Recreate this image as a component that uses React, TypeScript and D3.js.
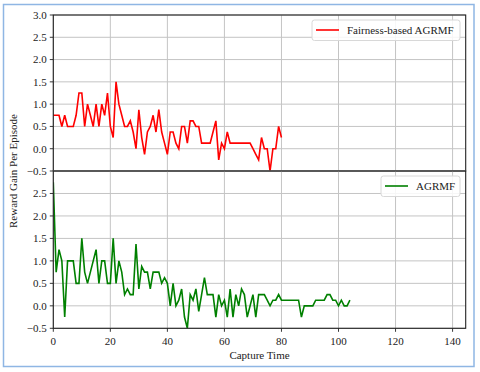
import React from 'react';
import * as d3 from 'd3';

// Reward per capture step, x = index (capture time)
const fairnessValues = [
  0.75, 0.75, 0.75, 0.5, 0.75, 0.5, 0.5, 0.5, 0.75, 1.25,
  1.25, 0.5, 1.0, 0.75, 0.5, 1.0, 0.5, 1.0, 0.75, 1.25,
  0.5, 0.25, 1.5, 1.0, 0.75, 0.5, 0.5, 0.625, 0.375, 0.0,
  0.875, 0.25, -0.125, 0.375, 0.5, 0.75, 0.375, 0.875, 0.375, 0.125,
  -0.125, 0.375, 0.375, 0.125, 0.0, 0.5, 0.5, 0.125, 0.625, 0.625,
  0.5, 0.5, 0.125, 0.125, 0.125, 0.125, 0.375, 0.625, -0.25, 0.125,
  0.0, 0.375, 0.125, 0.125, 0.125, 0.125, 0.125, 0.125, 0.125, 0.125,
  0.0, -0.125, -0.25, 0.25, 0.0, 0.0, -0.5, 0.0, 0.0, 0.5,
  0.25,
];

const agrmfValues = [
  2.75, 0.75, 1.25, 1.0, -0.25, 1.0, 1.0, 1.0, 0.5, 0.5,
  1.5, 0.75, 0.5, 0.75, 1.0, 1.25, 0.5, 1.0, 1.0, 0.5,
  0.5, 1.5, 0.5, 1.0, 0.75, 0.25, 0.375, 0.25, 0.25, 1.375,
  0.375, 0.875, 0.75, 0.75, 0.375, 0.75, 0.75, 0.75, 0.5, 0.625,
  0.5, 0.0, 0.5, 0.0, 0.125, 0.375, -0.25, -0.5, 0.25, 0.125,
  0.375, -0.125, 0.25, 0.625, 0.25, 0.25, 0.25, -0.25, 0.25, 0.0,
  0.125, -0.25, 0.375, -0.25, 0.25, 0.0, 0.375, 0.25, -0.25, 0.0,
  0.25, -0.25, 0.25, 0.25, 0.25, 0.125, 0.0, 0.125, 0.125, 0.25,
  0.125, 0.125, 0.125, 0.125, 0.125, 0.125, 0.125, -0.25, 0.0, 0.0,
  0.0, 0.0, 0.125, 0.125, 0.125, 0.125, 0.25, 0.25, 0.125, 0.125,
  0.0, 0.125, 0.0, 0.0, 0.125,
];

const xTicks = [0, 20, 40, 60, 80, 100, 120, 140];
const yTicksTop = [-0.5, 0, 0.5, 1.0, 1.5, 2.0, 2.5, 3.0];
const yTicksBottom = [-0.5, 0, 0.5, 1.0, 1.5, 2.0, 2.5];

const W = 480;
const H = 372;
const left = 53.3;
const right = 465.7;
const top = 15;
const mid = 171;
const bottom = 328.3;

const font = '"Liberation Serif", "Times New Roman", serif';
const fmt = d3.format('.1f');

const x = d3.scaleLinear().domain([0, 144.6]).range([left, right]);
const yTop = d3.scaleLinear().domain([-0.5, 3.0]).range([mid, top]);
const yBot = d3.scaleLinear().domain([-0.5, 3.0]).range([bottom, mid]);

const Panel = ({ y, values, color, ticks, label, legendX, legendW }) => {
  const [y0, y1] = y.range();
  const line = d3.line<number>().x((d, i) => x(i)).y(d => y(d));
  const ly = y1 + 5;
  return (
    <g>
      <defs>
        <clipPath id={`clip-${color}`}>
          <rect x={left} y={y1} width={right - left} height={y0 - y1} />
        </clipPath>
      </defs>
      {xTicks.map(t => (
        <line key={'gx' + t} x1={x(t)} x2={x(t)} y1={y1} y2={y0} stroke="#c4c4c4" strokeWidth={1} />
      ))}
      {yTicksTop.map(t => (
        <line key={'gy' + t} x1={left} x2={right} y1={y(t)} y2={y(t)} stroke="#c4c4c4" strokeWidth={1} />
      ))}
      <path d={line(values) || ''} fill="none" stroke={color} strokeWidth={1.6} clipPath={`url(#clip-${color})`} />
      {ticks.map(t => (
        <g key={'ty' + t}>
          <line x1={left - 3.5} x2={left} y1={y(t)} y2={y(t)} stroke="#222" strokeWidth={0.9} />
          <text x={left - 6.5} y={y(t)} dy="0.35em" textAnchor="end" fontSize={11} fontFamily={font} fill="#222">
            {fmt(t)}
          </text>
        </g>
      ))}
      <rect x={left} y={y1} width={right - left} height={y0 - y1} fill="none" stroke="#222" strokeWidth={1.1} />
      <rect x={legendX} y={ly} width={legendW} height={20.5} rx={2.5} fill="white" fillOpacity={0.85} stroke="#d8d8d8" strokeWidth={1} />
      <line x1={legendX + 4} x2={legendX + 27} y1={ly + 10} y2={ly + 10} stroke={color} strokeWidth={1.6} />
      <text x={legendX + 35} y={ly + 10} dy="0.35em" fontSize={11} fontFamily={font} fill="#222">{label}</text>
    </g>
  );
};

export default function App() {
  return (
    <svg width={W} height={H} style={{ position: 'fixed', left: 0, top: 0, background: 'white' }}>
      <rect x={0} y={0} width={W} height={H} fill="white" />
      <rect x={3.5} y={4.5} width={470.5} height={362} fill="none" stroke="#8fb6e4" strokeWidth={1.5} />
      <Panel y={yTop} values={fairnessValues} color="#ff0000" ticks={yTicksTop}
        label="Fairness-based AGRMF" legendX={312} legendW={148} />
      <Panel y={yBot} values={agrmfValues} color="#008000" ticks={yTicksBottom}
        label="AGRMF" legendX={381} legendW={79} />
      {xTicks.map(t => (
        <g key={'tx' + t}>
          <line x1={x(t)} x2={x(t)} y1={bottom} y2={bottom + 3.5} stroke="#222" strokeWidth={0.9} />
          <text x={x(t)} y={bottom + 16.5} textAnchor="middle" fontSize={11} fontFamily={font} fill="#222">{t}</text>
        </g>
      ))}
      <text x={(left + right) / 2} y={359} textAnchor="middle" fontSize={11} fontFamily={font} fill="#222">Capture Time</text>
      <text transform={`translate(17, ${mid}) rotate(-90)`} textAnchor="middle" fontSize={11} fontFamily={font} fill="#222">
        Reward Gain Per Episode
      </text>
    </svg>
  );
}
